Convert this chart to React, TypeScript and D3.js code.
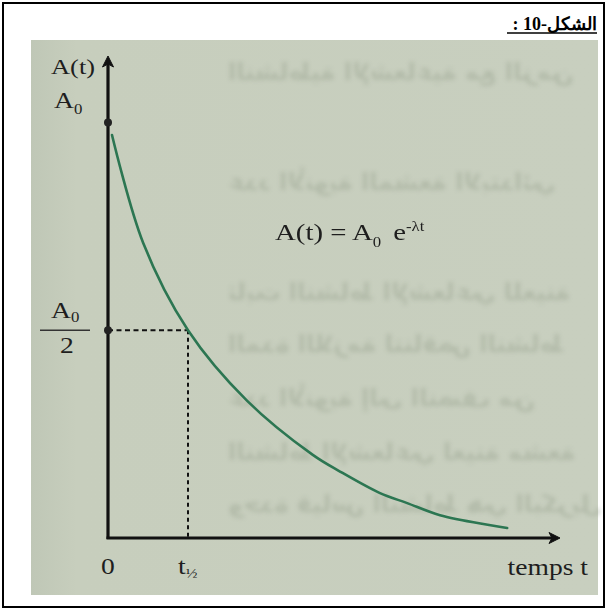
import React from "react";
import * as d3 from "d3";

// Decay curve A(t) read at a few times (t in half-lives, A as a fraction of A0)
const tValues = [0.05, 0.44, 1, 1.74, 2.56, 2.9, 3.4, 3.74, 4.15, 4.99];
const aValues = [0.97, 0.71, 0.5, 0.33, 0.2, 0.16, 0.108, 0.084, 0.055, 0.024];

// Marked points: initial activity A0 and half activity at t½
const markT = [0, 1];
const markA = [1, 0.5];

const xTickLabels = ["0", "t"];
const titleText = "الشكل-10 :";
const xAxisTitle = "temps t";
const yAxisTitle = "A(t)";

// Faint print showing through from the other side of the page
const ghostLines = [
  "النشاطية الإشعاعية مع الزمن",
  "عدد الأنوية المشعة الابتدائي",
  "ثابت النشاط الإشعاعي للعينة",
  "المدة اللازمة لتناقص النشاط",
  "عدد الأنوية إلى النصف من",
  "النشاط الإشعاعي لعينة مشعة",
  "وحدة قياس النشاط هي البكريل",
];
const ghostY = [80, 190, 300, 352, 406, 460, 512];

const W = 608;
const H = 610;
const serif = "'Liberation Serif', 'Times New Roman', serif";
const STRETCH = 1.2;

function Label({
  x,
  y,
  anchor = "start",
  size = 23,
  children,
}: {
  x: number;
  y: number;
  anchor?: "start" | "middle" | "end";
  size?: number;
  children: React.ReactNode;
}) {
  return (
    <text
      transform={`translate(${x},${y}) scale(${STRETCH},1)`}
      x={0}
      y={0}
      textAnchor={anchor}
      fontFamily={serif}
      fontSize={size}
      fill="#1e1e1e"
    >
      {children}
    </text>
  );
}

export default function App() {
  const x = d3.scaleLinear().domain([0, 5.65]).range([108, 560]);
  const y = d3.scaleLinear().domain([0, 1.16]).range([538, 56]);

  const pts: [number, number][] = tValues.map((t, i) => [t, aValues[i]]);
  const line = d3
    .line<[number, number]>()
    .x((d) => x(d[0]))
    .y((d) => y(d[1]))
    .curve(d3.curveCatmullRom.alpha(0.5));

  const x0 = x(0);
  const yBase = y(0);
  const yTop = y(1.16);
  const xEnd = x(5.65);

  const tHalfX = x(markT[1]);
  const halfY = y(markA[1]);
  const a0Y = y(markA[0]);

  return (
    <svg
      width={W}
      height={H}
      style={{ position: "absolute", left: 0, top: 0, background: "#ffffff" }}
    >
      <defs>
        <filter id="soft" x="-10%" y="-40%" width="120%" height="180%">
          <feGaussianBlur stdDeviation="2.2" />
        </filter>
        <linearGradient id="paper" x1="0" x2="1" y1="0" y2="0">
          <stop offset="0" stopColor="#bfc7b6" />
          <stop offset="0.08" stopColor="#c7cebd" />
          <stop offset="1" stopColor="#c8cfbf" />
        </linearGradient>
      </defs>

      {/* outer frame */}
      <rect x={3} y={3} width={601} height={604} fill="#fff" stroke="#000" strokeWidth={2} />

      {/* heading */}
      <text
        x={597}
        y={30}
        direction="rtl"
        textAnchor="start"
        fontFamily={serif}
        fontWeight="bold"
        fontSize={18}
        fill="#000"
      >
        {titleText}
      </text>
      <line x1={507} x2={597} y1={33} y2={33} stroke="#000" strokeWidth={1.6} />

      {/* page background */}
      <rect x={31} y={40} width={567} height={555} fill="url(#paper)" />

      <g filter="url(#soft)" opacity={0.35}>
        {ghostLines.map((s, i) => (
          <text
            key={i}
            transform={`translate(228, ${ghostY[i]}) scale(-1, 1)`}
            x={0}
            y={0}
            direction="rtl"
            textAnchor="start"
            fontFamily="'DejaVu Sans', sans-serif"
            fontWeight="bold"
            fontSize={24}
            fill="#8f9a86"
          >
            {s}
          </text>
        ))}
      </g>

      {/* dashed guides to the half-life point */}
      <line
        x1={x0}
        x2={tHalfX}
        y1={halfY}
        y2={halfY}
        stroke="#111"
        strokeWidth={2}
        strokeDasharray="5 3.5"
      />
      <line
        x1={tHalfX}
        x2={tHalfX}
        y1={halfY}
        y2={yBase}
        stroke="#111"
        strokeWidth={2}
        strokeDasharray="4 3.5"
      />

      {/* decay curve */}
      <path d={line(pts) ?? ""} fill="none" stroke="#2c7652" strokeWidth={2.6} strokeLinecap="round" />

      {/* axes */}
      <line x1={x0} x2={x0} y1={yBase + 1} y2={yTop + 6} stroke="#111" strokeWidth={3.2} />
      <line x1={x0 - 1.5} x2={xEnd - 6} y1={yBase} y2={yBase} stroke="#111" strokeWidth={3.2} />
      <path
        d={`M${x0},${yTop} L${x0 + 5.5},${yTop + 11} L${x0},${yTop + 8} L${x0 - 5.5},${yTop + 11} Z`}
        fill="#111"
        stroke="#111"
        strokeWidth={1}
        strokeLinejoin="round"
      />
      <path
        d={`M${xEnd},${yBase} L${xEnd - 11},${yBase - 5.5} L${xEnd - 8},${yBase} L${xEnd - 11},${yBase + 5.5} Z`}
        fill="#111"
        stroke="#111"
        strokeWidth={1}
        strokeLinejoin="round"
      />

      {/* marked points on the vertical axis */}
      {markT.map((t, i) => (
        <circle key={i} cx={x0} cy={y(markA[i])} r={4} fill="#222" />
      ))}

      {/* axis titles */}
      <Label x={95} y={74} anchor="end" size={22}>
        {yAxisTitle}
      </Label>
      <Label x={588} y={575} anchor="end">
        {xAxisTitle}
      </Label>

      {/* A0 label */}
      <Label x={54} y={a0Y - 14}>
        A<tspan fontSize={14} dy={6}>0</tspan>
      </Label>

      {/* A0 / 2 label */}
      <Label x={51} y={halfY - 12}>
        A<tspan fontSize={14} dy={4}>0</tspan>
      </Label>
      <line x1={40} x2={90} y1={halfY} y2={halfY} stroke="#333" strokeWidth={1.4} />
      <Label x={67} y={halfY + 23} anchor="middle">
        2
      </Label>

      {/* time labels */}
      <Label x={x0} y={574} anchor="middle">
        {xTickLabels[0]}
      </Label>
      <Label x={tHalfX - 10} y={574}>
        {xTickLabels[1]}
        <tspan fontSize={13} dy={4}>½</tspan>
      </Label>

      {/* equation */}
      <Label x={275} y={240} size={24}>
        A(t) = A<tspan fontSize={14} dy={7}>0</tspan>
        <tspan dy={-7} dx={10}>e</tspan>
        <tspan fontSize={14} dy={-9}>-λt</tspan>
      </Label>
    </svg>
  );
}
